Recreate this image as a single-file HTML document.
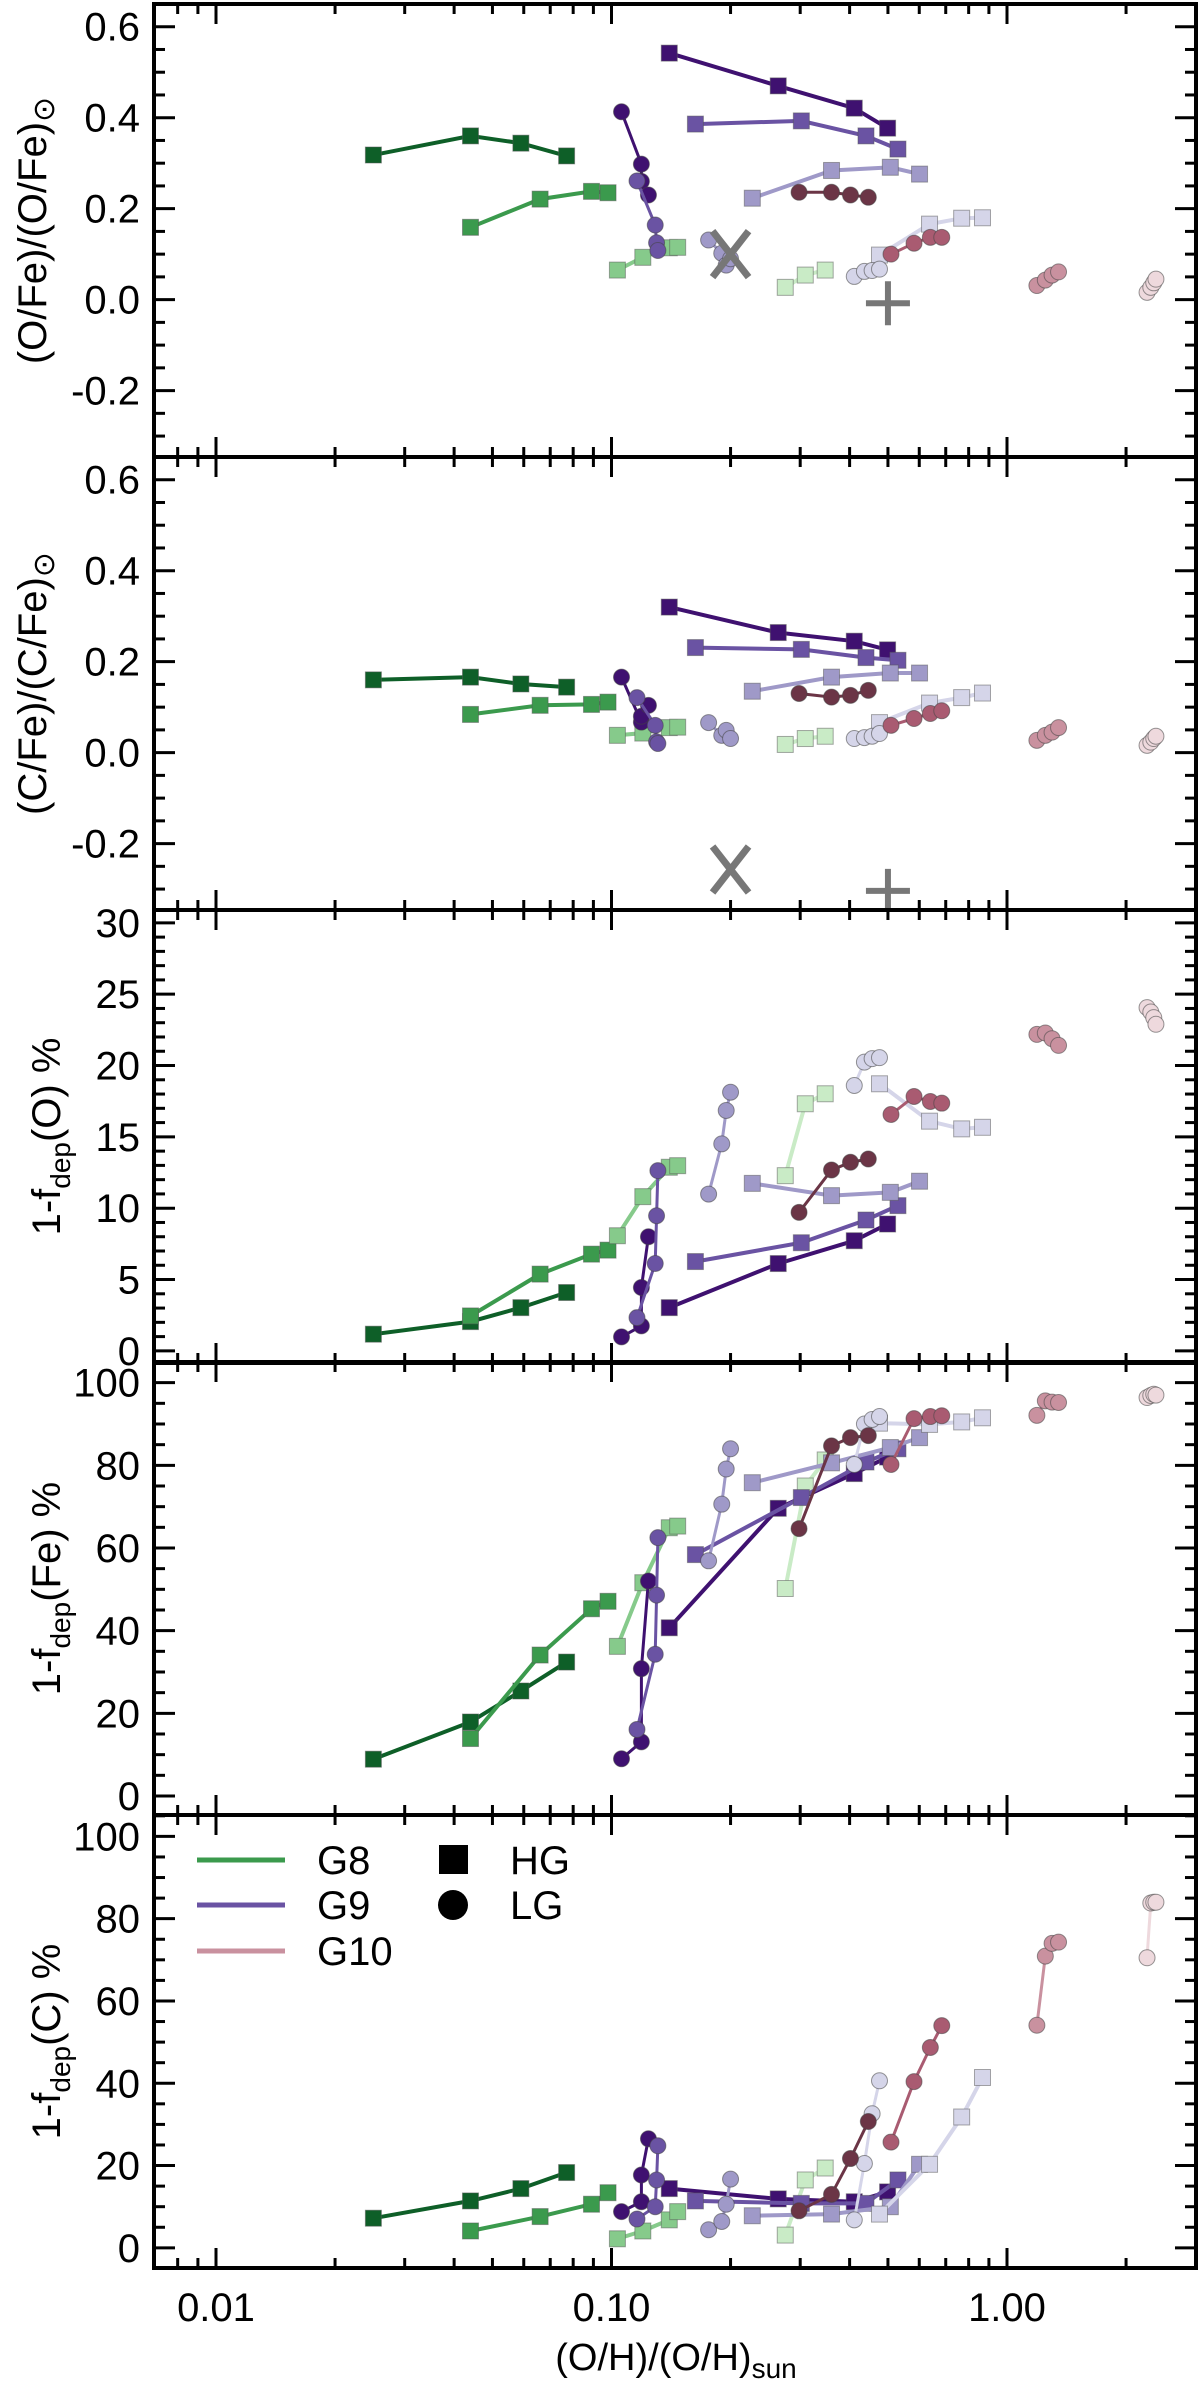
<!DOCTYPE html>
<html><head><meta charset="utf-8"><style>
html,body{margin:0;padding:0;background:#fff;}
svg{display:block;font-family:"Liberation Sans",Arial,sans-serif;}
</style></head><body>
<svg id="chart" width="1200" height="2387" viewBox="0 0 1200 2387" xmlns="http://www.w3.org/2000/svg"></svg>
<script>
// ---- data ----
const seriesNames = ["g8hg1","g8hg2","g8hg3","g8hg4","g9hg1","g9hg2","g9hg3","g9hg4","g9lg1","g9lg2","g9lg3","g9lg4","g10lg1","g10lg2","g10lg3","g10lg4"];
const seriesX = [
 [0.025,0.044,0.059,0.077],[0.044,0.066,0.089,0.098],[0.1035,0.12,0.14,0.147],[0.275,0.309,0.347],
 [0.14,0.264,0.411,0.499],[0.163,0.302,0.44,0.53],[0.227,0.36,0.507,0.601],[0.476,0.637,0.768,0.867],
 [0.106,0.119,0.119,0.124],[0.116,0.129,0.130,0.131],[0.176,0.19,0.195,0.2],[0.411,0.436,0.456,0.476],
 [0.298,0.36,0.402,0.446],[0.509,0.582,0.64,0.684],[1.19,1.25,1.30,1.35],[2.26,2.31,2.35,2.38]
];
const seriesColor = ["#0e5f28","#3b9a4d","#86ca8b","#c9ebc6","#3f1170","#6a53a3","#9f99c8","#d5d5e9","#3f1170","#6a53a3","#9f99c8","#d5d5e9","#6b3546","#a95b71","#c9919f","#eed9dd"];
const seriesShape = ["sq","sq","sq","sq","sq","sq","sq","sq","ci","ci","ci","ci","ci","ci","ci","ci"];
const yOFe = [[0.318,0.36,0.344,0.316],[0.159,0.221,0.238,0.235],[0.065,0.093,0.114,0.115],[0.027,0.054,0.065],
 [0.542,0.470,0.421,0.377],[0.386,0.393,0.360,0.331],[0.223,0.284,0.291,0.276],[0.098,0.166,0.179,0.180],
 [0.413,0.298,0.26,0.230],[0.261,0.164,0.125,0.108],[0.131,0.102,0.076,0.09],[0.051,0.062,0.064,0.067],
 [0.236,0.236,0.230,0.225],[0.100,0.124,0.137,0.137],[0.031,0.043,0.054,0.061],[0.016,0.027,0.037,0.045]];
const yCFe = [[0.160,0.166,0.151,0.144],[0.084,0.104,0.106,0.111],[0.038,0.043,0.055,0.056],[0.018,0.031,0.036],
 [0.320,0.264,0.245,0.226],[0.231,0.227,0.209,0.203],[0.135,0.166,0.175,0.175],[0.066,0.109,0.121,0.131],
 [0.166,0.067,0.08,0.104],[0.121,0.060,0.024,0.020],[0.066,0.038,0.049,0.031],[0.031,0.033,0.036,0.042],
 [0.130,0.122,0.126,0.137],[0.060,0.075,0.086,0.092],[0.027,0.038,0.045,0.055],[0.016,0.023,0.031,0.036]];
const yDepO = [[1.17,2.05,3.03,4.09],[2.45,5.38,6.78,7.06],[8.07,10.81,12.87,12.98],[12.28,17.32,18.02],
 [3.03,6.12,7.72,8.89],[6.26,7.58,9.17,10.18],[11.74,10.88,11.11,11.89],[18.72,16.10,15.56,15.67],
 [0.98,1.75,4.44,8.0],[2.33,6.12,9.47,12.63],[10.99,14.51,16.85,18.13],[18.6,20.24,20.48,20.55],
 [9.71,12.68,13.22,13.45],[16.57,17.83,17.48,17.36],[22.18,22.28,21.88,21.41],[24.06,23.75,23.36,22.89]];
const yDepFe = [[8.9,17.9,25.4,32.4],[13.9,34.1,45.3,47.1],[36.2,51.6,64.9,65.3],[50.2,75.0,81.3],
 [40.7,69.6,78.0,82.0],[58.4,72.2,80.8,84.0],[75.8,80.6,84.3,86.7],[90.2,89.9,90.5,91.5],
 [9.0,13.1,30.8,52.0],[16.1,34.3,48.6,62.5],[56.9,70.6,79.1,84.0],[80.2,90.0,91.1,91.8],
 [64.7,84.7,86.7,87.2],[80.2,91.3,91.8,92.0],[92.1,95.6,95.3,95.2],[96.4,96.9,97.2,97.0]];
const yDepC = [[7.2,11.4,14.4,18.3],[4.1,7.6,10.6,13.4],[2.2,4.1,6.8,8.8],[3.1,16.5,19.4],
 [14.4,11.9,11.2,13.6],[11.4,10.8,10.8,16.5],[7.8,8.2,10.0,20.3],[8.2,20.3,31.8,41.4],
 [8.8,11.2,17.7,26.5],[7.0,10.0,16.5,24.8],[4.4,6.4,10.6,16.7],[6.8,20.5,32.6,40.6],
 [9.0,13.0,21.7,30.7],[25.7,40.4,48.7,54.0],[54.1,70.9,74.0,74.3],[70.5,83.8,84.0,84.0]];
const refCrossX = [0.2, 0.2];   // X marker, panels 1-2
const refCrossY = [0.10, -0.257];
const refPlusX = [0.5, 0.5];
const refPlusY = [-0.008, -0.304];
const xTickLabels = ["0.01","0.10","1.00"];
const xTickValues = [0.01,0.1,1];

const panels = [
 {name:"ofe", ys:yOFe, min:-0.346, max:0.65, major:[-0.2,0,0.2,0.4,0.6], labels:["-0.2","0.0","0.2","0.4","0.6"], minorStep:0.05, title:"ofe"},
 {name:"cfe", ys:yCFe, min:-0.346, max:0.65, major:[-0.2,0,0.2,0.4,0.6], labels:["-0.2","0.0","0.2","0.4","0.6"], minorStep:0.05, title:"cfe"},
 {name:"dep-o", ys:yDepO, min:-0.85, max:30.9, major:[0,5,10,15,20,25,30], labels:["0","5","10","15","20","25","30"], minorStep:1, title:"O"},
 {name:"dep-fe", ys:yDepFe, min:-4.6, max:105, major:[0,20,40,60,80,100], labels:["0","20","40","60","80","100"], minorStep:5, title:"Fe"},
 {name:"dep-c", ys:yDepC, min:-4.9, max:105.2, major:[0,20,40,60,80,100], labels:["0","20","40","60","80","100"], minorStep:5, title:"C"}
];
// ---- layout ----
const NS="http://www.w3.org/2000/svg";
const svg=document.getElementById('chart');
const L=154, R=1196, PH=453, TOPS=[4,457,910,1362,1815];
function xPos(v){return 216+(Math.log10(v)+2)*395.5;}
function mk(tag,attrs,parent){const e=document.createElementNS(NS,tag);for(const k in attrs)e.setAttribute(k,attrs[k]);(parent||svg).appendChild(e);return e;}

const defs=mk('defs',{});
panels.forEach((p,pi)=>{
  const top=TOPS[pi], bot=top+PH;
  const yPos=v=>top+(p.max-v)/(p.max-p.min)*PH;
  const g=mk('g',{});
  
  
  const cp=mk('clipPath',{id:'clip'+pi},defs);
  mk('rect',{x:L,y:top,width:R-L,height:PH},cp);
  // y ticks
  for(let v=Math.ceil(p.min/p.minorStep)*p.minorStep; v<=p.max+1e-9; v+=p.minorStep){
    const isMaj=p.major.some(m=>Math.abs(m-v)<1e-6);
    const len=isMaj?21:11, y=yPos(v);
    const t1=mk('line',{x1:L,x2:L+len,y1:y,y2:y,stroke:'#000','stroke-width':3},g);
    
    
    const t2=mk('line',{x1:R-len,x2:R,y1:y,y2:y,stroke:'#000','stroke-width':3},g);
    
    
  }
  p.major.forEach((v,i)=>{
    const t=mk('text',{x:140,y:yPos(v)+14,'text-anchor':'end','font-size':40},g);
    t.textContent=p.labels[i];
    
    
  });
  // x ticks top & bottom
  for(let d=-3; d<=0; d++){
    for(let m=1;m<=9;m++){
      const v=m*Math.pow(10,d), x=xPos(v);
      if(x<L+2||x>R-2) continue;
      const len=(m===1)?20:10;
      const a=mk('line',{x1:x,x2:x,y1:top,y2:top+len,stroke:'#000','stroke-width':3},g);
      
      
      const b=mk('line',{x1:x,x2:x,y1:bot-len,y2:bot,stroke:'#000','stroke-width':3},g);
      
      
    }
  }
  // y title
  const cy=top+PH/2;
  const tt=mk('text',{transform:`translate(${pi<2?46:60},${cy}) rotate(-90)`,'text-anchor':'middle','font-size':40},g);
  
  
  if(pi===0||pi===1){
    const el=pi===0?'O':'C';
    tt.innerHTML=`(${el}/Fe)/(${el}/Fe)<tspan font-size="30" dy="8">⊙</tspan>`;
  } else {
    tt.innerHTML=`1-f<tspan font-size="28" dy="10">dep</tspan><tspan dy="-10">(${p.title}) %</tspan>`;
  }
  // data
  const dg=mk('g',{'clip-path':`url(#clip${pi})`},g);
  
  
  p.ys.forEach((ys,si)=>{
    const xs=seriesX[si], col=seriesColor[si];
    const sg=mk('g',{},dg);
    
    
    const pts=ys.map((v,i)=>xPos(xs[i]).toFixed(1)+','+yPos(v).toFixed(1)).join(' ');
    const ln=mk('polyline',{points:pts,fill:'none',stroke:col,'stroke-width':seriesShape[si]==='sq'?4:3},sg);
    
    
    ys.forEach((v,i)=>{
      const x=xPos(xs[i]), y=yPos(v);
      let m;
      if(seriesShape[si]==='sq') m=mk('rect',{x:x-8,y:y-8,width:16,height:16,fill:col,stroke:'#555','stroke-opacity':0.5,'stroke-width':1},sg);
      else m=mk('circle',{cx:x,cy:y,r:8,fill:col,stroke:'#444','stroke-opacity':0.55,'stroke-width':1},sg);
      
      
    });
  });
  if(pi<2){
    const cx=xPos(refCrossX[pi]), cyy=yPos(refCrossY[pi]);
    const xg=mk('g',{stroke:'#777','stroke-width':7,fill:'none'},dg);
    
    
    mk('line',{x1:cx-18,y1:cyy-23,x2:cx+18,y2:cyy+23},xg);
    mk('line',{x1:cx+18,y1:cyy-23,x2:cx-18,y2:cyy+23},xg);
    const px=xPos(refPlusX[pi]), py=yPos(refPlusY[pi]);
    const pg=mk('g',{stroke:'#777','stroke-width':6,fill:'none'},dg);
    
    
    mk('line',{x1:px-22,y1:py,x2:px+22,y2:py},pg);
    mk('line',{x1:px,y1:py-22,x2:px,y2:py+22},pg);
  }
  const fr=mk('rect',{x:L,y:top,width:R-L,height:PH,fill:'none',stroke:'#000','stroke-width':4},g);
  
  
});
// x tick labels
xTickValues.forEach((v,i)=>{
  const t=mk('text',{x:xPos(v),y:2321,'text-anchor':'middle','font-size':40});
  t.textContent=xTickLabels[i];
  
  
});
const xt=mk('text',{x:676,y:2370,'text-anchor':'middle','font-size':38});
xt.innerHTML='(O/H)/(O/H)<tspan font-size="28" dy="8">sun</tspan>';


// legend
const lg=mk('g',{});


const legLabels=["G8","G9","G10"], legCols=["#3b9a4d","#6a53a3","#c9919f"], legY=[1860,1905,1951];
legLabels.forEach((s,i)=>{
  const e=mk('g',{},lg);
  
  
  mk('line',{x1:197,x2:285,y1:legY[i],y2:legY[i],stroke:legCols[i],'stroke-width':5},e);
  const t=mk('text',{x:317,y:legY[i]+14,'font-size':40},e);
  t.textContent=s;
});
const e1=mk('g',{},lg);


mk('rect',{x:439,y:1845,width:29,height:29,fill:'#000'},e1);
mk('text',{x:510,y:1874,'font-size':40},e1).textContent='HG';
const e2=mk('g',{},lg);


mk('circle',{cx:453,cy:1905,r:15,fill:'#000'},e2);
mk('text',{x:510,y:1919,'font-size':40},e2).textContent='LG';
</script>
</body></html>
